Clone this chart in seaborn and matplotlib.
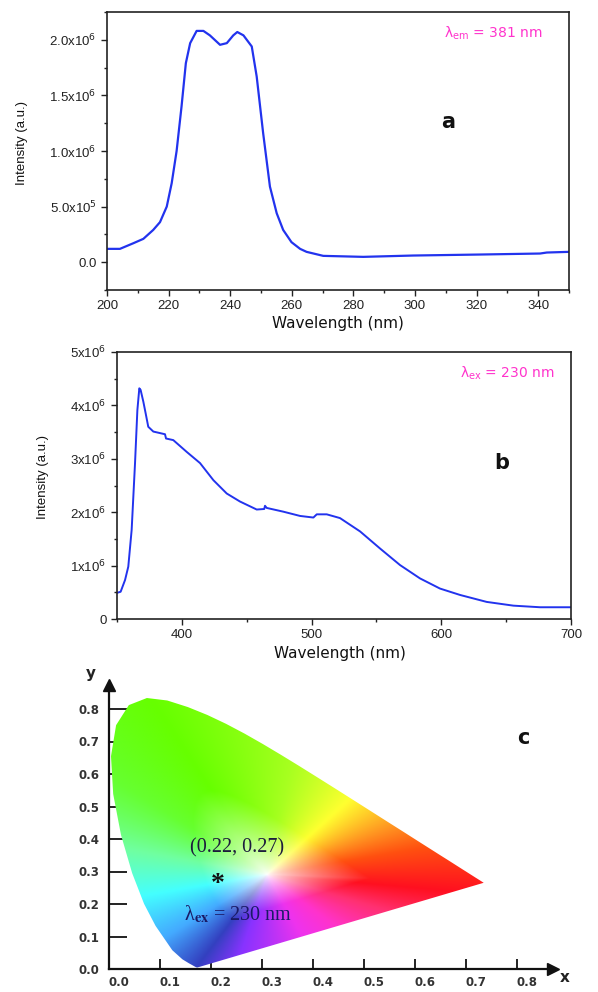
import numpy as np
import pandas as pd
import matplotlib
matplotlib.use("Agg")
import matplotlib.pyplot as plt
import matplotlib.transforms as mtransforms
from matplotlib.patches import Polygon
from matplotlib.colors import to_rgb
from matplotlib.ticker import MultipleLocator, FixedLocator, FixedFormatter
import seaborn as sns

# ---------------- data ----------------
# (a) excitation spectrum, lambda_em = 381 nm
exc_wl = [200, 204.2, 208.5, 211.8, 215, 217.2, 219.4, 221, 222.6, 224.2, 225.6, 227,
          229.1, 231.3, 233.4, 236.7, 238.9, 241, 242.3, 244.3, 247, 248.6, 250.7,
          252.9, 255.1, 257.2, 259.9, 262.7, 264.8, 270.2, 283.2, 299.4, 321.1,
          340.6, 342.8, 350]
exc_int = [1.2e5, 1.2e5, 1.7e5, 2.1e5, 2.9e5, 3.6e5, 5.0e5, 7.1e5, 1.0e6, 1.4e6, 1.79e6,
           1.97e6, 2.08e6, 2.08e6, 2.04e6, 1.955e6, 1.97e6, 2.04e6, 2.07e6, 2.04e6,
           1.94e6, 1.67e6, 1.16e6, 6.8e5, 4.4e5, 2.9e5, 1.8e5, 1.2e5, 9.3e4, 5.7e4,
           4.8e4, 6.0e4, 6.9e4, 7.8e4, 8.7e4, 9.3e4]

# (b) emission spectrum, lambda_ex = 230 nm
emi_wl = [350, 352.8, 356.2, 358.7, 361.3, 363.9, 365.7, 367.2, 368.2, 370.3, 372.1,
          374.1, 378, 387, 387.8, 393.4, 403.7, 414, 424.3, 434.6, 444.8, 457.7,
          463.5, 464.1, 465.4, 478.2, 491.1, 501.4, 504, 511.7, 521.9, 537.4, 552.8,
          568.2, 583.6, 599, 614.5, 635, 655.6, 676.2, 700]
emi_int = [4.9e5, 5.1e5, 7.3e5, 9.8e5, 1.67e6, 2.92e6, 3.91e6, 4.32e6, 4.29e6, 4.07e6,
           3.85e6, 3.6e6, 3.51e6, 3.46e6, 3.38e6, 3.35e6, 3.13e6, 2.92e6, 2.6e6,
           2.35e6, 2.2e6, 2.05e6, 2.06e6, 2.12e6, 2.08e6, 2.01e6, 1.93e6, 1.9e6,
           1.96e6, 1.96e6, 1.89e6, 1.64e6, 1.32e6, 1.01e6, 7.6e5, 5.7e5, 4.5e5,
           3.2e5, 2.5e5, 2.2e5, 2.2e5]

# (c) CIE 1931 spectral locus (x, y)
locus_x = [0.1741, 0.1738, 0.1733, 0.1726, 0.1714, 0.1689, 0.1644, 0.1566, 0.1440,
           0.1241, 0.0913, 0.0687, 0.0454, 0.0235, 0.0082, 0.0039, 0.0139, 0.0389,
           0.0743, 0.1142, 0.1547, 0.1929, 0.2296, 0.2658, 0.3016, 0.3373, 0.3731,
           0.4087, 0.4441, 0.4788, 0.5125, 0.5448, 0.5752, 0.6029, 0.6270, 0.6482,
           0.6658, 0.6801, 0.6915, 0.7006, 0.7079, 0.7140, 0.7190, 0.7230, 0.7260,
           0.7300, 0.7334, 0.7347]
locus_y = [0.0050, 0.0049, 0.0048, 0.0048, 0.0051, 0.0069, 0.0109, 0.0177, 0.0297,
           0.0578, 0.1327, 0.2007, 0.2950, 0.4127, 0.5384, 0.6548, 0.7502, 0.8120,
           0.8338, 0.8262, 0.8059, 0.7816, 0.7543, 0.7243, 0.6923, 0.6589, 0.6245,
           0.5896, 0.5547, 0.5202, 0.4866, 0.4544, 0.4242, 0.3965, 0.3725, 0.3514,
           0.3340, 0.3197, 0.3083, 0.2993, 0.2920, 0.2859, 0.2809, 0.2770, 0.2740,
           0.2700, 0.2666, 0.2653]
cie_point = (0.22, 0.27)
cie_ticks = [0.0, 0.1, 0.2, 0.3, 0.4, 0.5, 0.6, 0.7, 0.8]

# ---------------- style ----------------
sns.set_theme(style="ticks")
plt.rcParams["font.family"] = ["Liberation Sans", "DejaVu Sans"]
plt.rcParams["axes.linewidth"] = 1.2

LINE = "#2233ee"
MAG = "#ff33cc"

fig = plt.figure(figsize=(5.98, 9.92), dpi=100)
fig.patch.set_facecolor("white")

def spectrum_axes(ax):
    for s in ax.spines.values():
        s.set_color("#222222")
        s.set_visible(True)
    ax.tick_params(axis="both", which="both", direction="out", top=False, right=False,
                   colors="#222222", labelsize=9.5, width=1.0)
    ax.tick_params(which="major", length=4)
    ax.tick_params(which="minor", length=2.5)

# ---- panel a ----
axa = fig.add_axes([107/598, 1-290/992, 462/598, 278/992])
dfa = pd.DataFrame({"wl": exc_wl, "I": exc_int})
sns.lineplot(data=dfa, x="wl", y="I", ax=axa, color=LINE, linewidth=1.6)
axa.set_xlim(200, 350)
axa.set_ylim(-2.5e5, 2.25e6)
spectrum_axes(axa)
axa.xaxis.set_major_locator(MultipleLocator(20))
axa.xaxis.set_minor_locator(MultipleLocator(10))
a_yt = [0, 5e5, 1e6, 1.5e6, 2e6]
a_yl = ["0.0", r"5.0x10$^{5}$", r"1.0x10$^{6}$", r"1.5x10$^{6}$", r"2.0x10$^{6}$"]
axa.yaxis.set_major_locator(FixedLocator(a_yt))
axa.yaxis.set_major_formatter(FixedFormatter(a_yl))
axa.yaxis.set_minor_locator(MultipleLocator(2.5e5))
axa.set_xlabel("Wavelength (nm)", fontsize=11, family="DejaVu Sans", color="#111111")
axa.set_ylabel("Intensity (a.u.)", fontsize=9.5, color="#111111")
axa.yaxis.set_label_coords(-0.172, 0.53)
axa.xaxis.set_label_coords(0.5, -0.095)
axa.text(0.729, 0.924, "λ$_{\\rm em}$ = 381 nm", transform=axa.transAxes,
         color=MAG, fontsize=10, family="DejaVu Sans", va="center", ha="left")
axa.text(0.738, 0.604, "a", transform=axa.transAxes, fontsize=15, fontweight="bold",
         family="DejaVu Sans", ha="center", va="center", color="#111111")

# ---- panel b ----
axb = fig.add_axes([117/598, 1-619/992, 454/598, 267/992])
dfb = pd.DataFrame({"wl": emi_wl, "I": emi_int})
sns.lineplot(data=dfb, x="wl", y="I", ax=axb, color=LINE, linewidth=1.4)
axb.set_xlim(350, 700)
axb.set_ylim(0, 5e6)
spectrum_axes(axb)
axb.xaxis.set_major_locator(FixedLocator([400, 500, 600, 700]))
axb.xaxis.set_minor_locator(FixedLocator([350, 450, 550, 650]))
b_yt = [0, 1e6, 2e6, 3e6, 4e6, 5e6]
b_yl = ["0", r"1x10$^{6}$", r"2x10$^{6}$", r"3x10$^{6}$", r"4x10$^{6}$", r"5x10$^{6}$"]
axb.yaxis.set_major_locator(FixedLocator(b_yt))
axb.yaxis.set_major_formatter(FixedFormatter(b_yl))
axb.yaxis.set_minor_locator(MultipleLocator(5e5))
axb.set_xlabel("Wavelength (nm)", fontsize=11, family="DejaVu Sans", color="#111111")
axb.set_ylabel("Intensity (a.u.)", fontsize=9.5, color="#111111")
axb.yaxis.set_label_coords(-0.15, 0.53)
axb.xaxis.set_label_coords(0.49, -0.1)
axb.text(0.755, 0.921, "λ$_{\\rm ex}$ = 230 nm", transform=axb.transAxes,
         color=MAG, fontsize=10, family="DejaVu Sans", va="center", ha="left")
axb.text(0.848, 0.584, "b", transform=axb.transAxes, fontsize=15, fontweight="bold",
         family="DejaVu Sans", ha="center", va="center", color="#111111")

# ---- panel c : CIE chromaticity diagram ----
XMAX, YMAX = 0.87, 0.875
axc = fig.add_axes([109/598, 1-969/992, XMAX*510/598, YMAX*325/992])
axc.set_xlim(0, XMAX)
axc.set_ylim(0, YMAX)
axc.set_facecolor("white")

# colour fill: hue by angle around the white region, saturation by distance
WX, WY = 0.31, 0.29
n = 500
gx = np.linspace(0, 0.8, n)
gy = np.linspace(0.0, 0.9, n)
GX, GY = np.meshgrid(gx, gy)
dx, dy = GX - WX, GY - WY
th = np.degrees(np.arctan2(dy, dx)) % 360
rr = np.hypot(dx, dy)

bx = np.array(locus_x + [locus_x[0]])
by = np.array(locus_y + [locus_y[0]])
dbx = np.concatenate([np.linspace(bx[i], bx[i+1], 30, endpoint=False) for i in range(len(bx)-1)])
dby = np.concatenate([np.linspace(by[i], by[i+1], 30, endpoint=False) for i in range(len(by)-1)])
bth = np.degrees(np.arctan2(dby - WY, dbx - WX)) % 360
brr = np.hypot(dbx - WX, dby - WY)
order = np.argsort(bth)
rb = np.interp(th, bth[order], brr[order], period=360)
sat = np.clip(rr / rb * 2.1, 0, 1) ** 0.75

hue_ang = [352, 15, 30, 55, 82, 113, 136, 164, 195, 224, 244, 258, 290, 310, 335]
hue_col = ["#ff1020", "#ff5010", "#ff9020", "#ffff30", "#a8ff20", "#66ff00", "#66ff30",
           "#70ffa0", "#44ffff", "#44aaff", "#3340c0", "#8833ff", "#ee33ee", "#ff33cc",
           "#ff3070"]
hc = np.array([to_rgb(c) for c in hue_col])
cols = np.stack([np.interp(th, hue_ang, hc[:, k], period=360) for k in range(3)], axis=-1)
rgb = 1 - (1 - cols) * sat[..., None]
rgb = np.clip(rgb, 0, 1)

im = axc.imshow(rgb, origin="lower", extent=[0, 0.8, 0.0, 0.9], aspect="auto",
                interpolation="bilinear", zorder=1)
poly = Polygon(np.column_stack([locus_x, locus_y]), closed=True, facecolor="none",
               edgecolor="none", transform=axc.transData)
axc.add_patch(poly)
im.set_clip_path(poly)

for s in ["top", "right"]:
    axc.spines[s].set_visible(False)
for s in ["left", "bottom"]:
    axc.spines[s].set_color("#111111")
    axc.spines[s].set_linewidth(1.6)
    axc.spines[s].set_zorder(5)
axc.set_xticks(cie_ticks)
axc.set_yticks(cie_ticks)
axc.set_xticklabels([f"{v:.1f}" for v in cie_ticks])
axc.set_yticklabels([f"{v:.1f}" for v in cie_ticks])
axc.tick_params(axis="y", direction="in", length=13, width=1.3, colors="#111111",
                labelsize=8.5, pad=7, left=True)
axc.tick_params(axis="x", direction="in", length=7, width=1.3, colors="#111111",
                labelsize=8.5, pad=5, bottom=True)
for lab in axc.get_xticklabels() + axc.get_yticklabels():
    lab.set_fontfamily("DejaVu Sans")
    lab.set_fontweight("bold")
    lab.set_color("#333333")
off = mtransforms.ScaledTranslation(10/100, 0, fig.dpi_scale_trans)
for lab in axc.get_xticklabels():
    lab.set_transform(lab.get_transform() + off)

axc.plot(1, 0, ">", color="#111111", markersize=9, transform=axc.get_yaxis_transform(),
         clip_on=False, zorder=6)
axc.plot(0, 1, "^", color="#111111", markersize=9, transform=axc.get_xaxis_transform(),
         clip_on=False, zorder=6)
axc.text(1.015, -0.03, "x", transform=axc.transAxes, fontsize=11, fontweight="bold",
         family="DejaVu Sans", color="#222222", ha="left", va="center")
axc.text(-0.03, 1.04, "y", transform=axc.transAxes, fontsize=11, fontweight="bold",
         family="DejaVu Sans", color="#222222", ha="right", va="center")

axc.text(0.159, 0.372, "(0.22, 0.27)", fontsize=14.5, family="Liberation Serif",
         color="#1c1c3c", ha="left", va="center", zorder=4)
axc.text(cie_point[0] - 0.006, cie_point[1] - 0.01, "*", fontsize=20, fontweight="bold",
         family="Liberation Serif", color="#111111", ha="center", va="center", zorder=4)
axc.text(0.147, 0.169, "λ$_{\\mathbf{ex}}$ = 230 nm", fontsize=14.5,
         family="Liberation Serif", math_fontfamily="stix", color="#1a1a66",
         ha="left", va="center", zorder=4)
axc.text(0.812, 0.711, "c", fontsize=15, fontweight="bold", family="DejaVu Sans",
         color="#111111", ha="center", va="center")

fig.savefig("out.png", dpi=100, facecolor="white")
